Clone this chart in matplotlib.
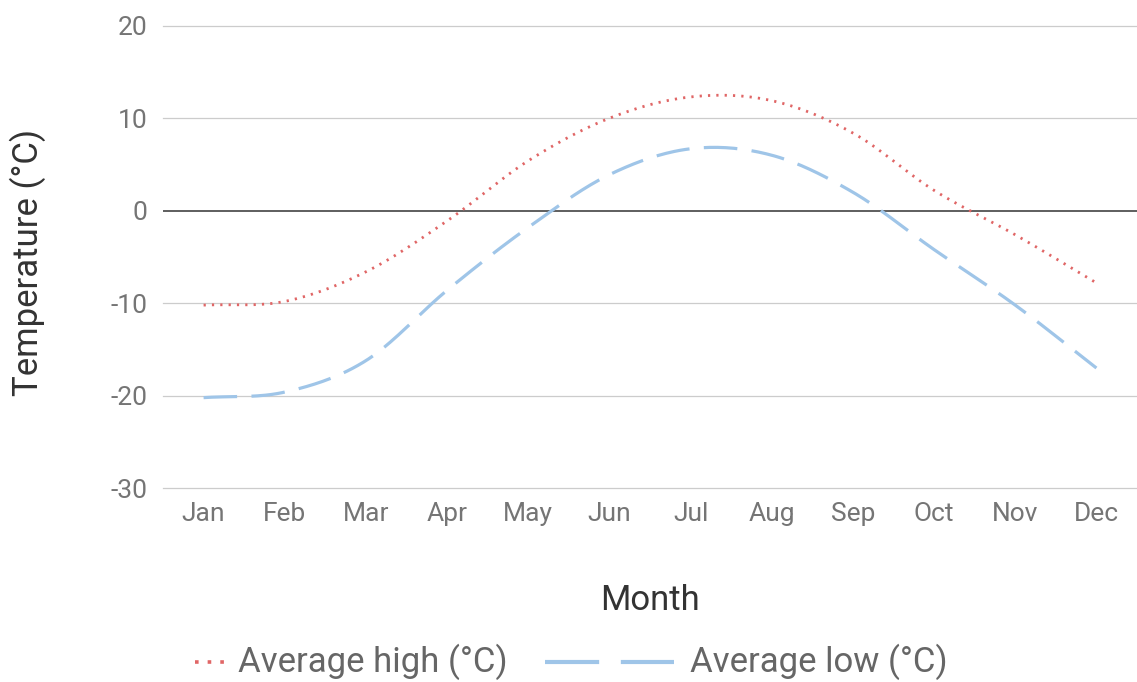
import numpy as np
import matplotlib
matplotlib.use("Agg")
import matplotlib.pyplot as plt
from matplotlib.lines import Line2D

months = ["Jan", "Feb", "Mar", "Apr", "May", "Jun", "Jul", "Aug", "Sep", "Oct", "Nov", "Dec"]
avg_high = [-10.2, -9.8, -6.6, -1.1, 5.4, 10.0, 12.3, 11.9, 8.4, 2.2, -2.6, -7.8]
avg_low = [-20.2, -19.6, -16.2, -8.6, -1.8, 3.9, 6.7, 6.0, 2.0, -4.2, -10.2, -17.0]
y_ticks = [-30, -20, -10, 0, 10, 20]

high_color = "#e06666"
low_color = "#9fc5e8"
tick_color = "#757575"
title_color = "#333333"


def smooth(y, n=30):
    # catmull-rom style curve through the points (like curveType: function)
    y = np.asarray(y, dtype=float)
    x = np.arange(len(y), dtype=float)
    m = np.zeros_like(y)
    m[1:-1] = (y[2:] - y[:-2]) / 2
    m[0] = y[1] - y[0]
    m[-1] = y[-1] - y[-2]
    xs, ys = [], []
    for i in range(len(y) - 1):
        t = np.linspace(0, 1, n, endpoint=(i == len(y) - 2))
        h00 = 2 * t**3 - 3 * t**2 + 1
        h10 = t**3 - 2 * t**2 + t
        h01 = -2 * t**3 + 3 * t**2
        h11 = t**3 - t**2
        xs.append(x[i] + t)
        ys.append(h00 * y[i] + h10 * m[i] + h01 * y[i + 1] + h11 * m[i + 1])
    return np.concatenate(xs), np.concatenate(ys)


plt.rcParams["font.family"] = ["Roboto", "DejaVu Sans"]
plt.rcParams["axes.unicode_minus"] = False

fig = plt.figure(figsize=(11.37, 6.82), dpi=100)
ax = fig.add_axes([163 / 1137, 1 - 488.3 / 682, (1137 - 163) / 1137, (488.3 - 25.7) / 682])

for v in y_ticks:
    if v != 0:
        ax.axhline(v, color="#cccccc", lw=0.9, zorder=1, clip_on=False)
ax.axhline(0, color="#333333", lw=1.1, zorder=2)

hx, hy = smooth(avg_high)
lx, ly = smooth(avg_low)
ax.plot(hx, hy, color=high_color, lw=2.0, dashes=(0.8, 2.2), dash_capstyle="butt", zorder=3)
ax.plot(lx, ly, color=low_color, lw=2.3, dashes=(10.5, 4.5), zorder=3)

ax.set_xlim(-0.5, 11.5)
ax.set_ylim(-30, 20)
ax.set_yticks(y_ticks)
ax.set_xticks(range(len(months)))
ax.set_xticklabels(months)
ax.tick_params(axis="both", length=0, labelsize=19, labelcolor=tick_color)
ax.tick_params(axis="y", pad=11)
ax.tick_params(axis="x", pad=10)
for s in ax.spines.values():
    s.set_visible(False)

fig.text(28 / 1137, 1 - 262 / 682, "Temperature (°C)", fontsize=25, color=title_color,
         ha="center", va="center", rotation=90)
fig.text(650 / 1137, 1 - 600 / 682, "Month", fontsize=25, color=title_color,
         ha="center", va="center")

# legend
ly_fig = 1 - 662 / 682
fig.add_artist(Line2D([195 / 1137, 230 / 1137], [ly_fig, ly_fig], color=high_color,
                      lw=2.6, dashes=(1, 2.5), transform=fig.transFigure))
fig.text(238 / 1137, ly_fig, "Average high (°C)", fontsize=25, color="#666666",
         ha="left", va="center")
fig.add_artist(Line2D([545 / 1137, 674 / 1137], [ly_fig, ly_fig], color=low_color,
                      lw=3, dashes=(13, 5.2), transform=fig.transFigure))
fig.text(690 / 1137, ly_fig, "Average low (°C)", fontsize=25, color="#666666",
         ha="left", va="center")

fig.savefig("out.png", dpi=100, facecolor="white")
